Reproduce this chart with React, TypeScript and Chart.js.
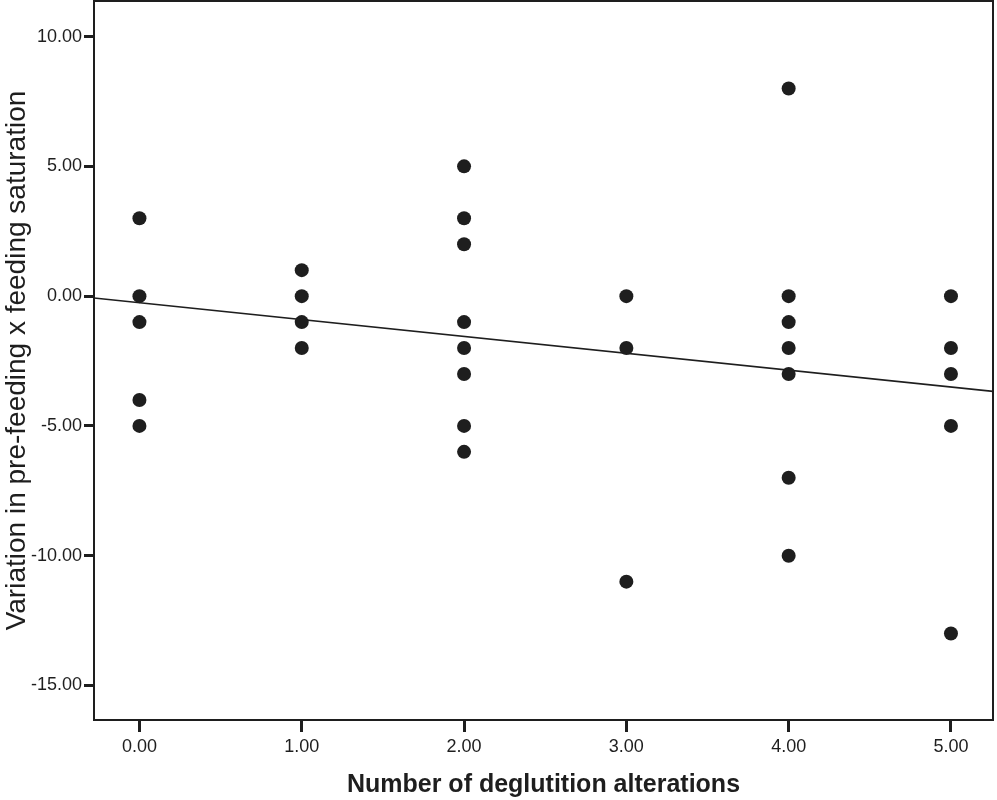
import React, { useEffect, useRef } from "react";
import { Chart, registerables } from "chart.js";

Chart.register(...registerables);

const xValues = [0, 0, 0, 0, 0, 1, 1, 1, 1, 2, 2, 2, 2, 2, 2, 2, 2, 3, 3, 3, 4, 4, 4, 4, 4, 4, 4, 5, 5, 5, 5, 5];
const yValues = [3, 0, -1, -4, -5, 1, 0, -1, -2, 5, 3, 2, -1, -2, -3, -5, -6, 0, -2, -11, 8, 0, -1, -2, -3, -7, -10, 0, -2, -3, -5, -13];
const fitX = [-0.28, 5.26];
const fitY = [-0.07, -3.67];
const xTicks = [0, 1, 2, 3, 4, 5];
const yTicks = [-15, -10, -5, 0, 5, 10];
const xTitle = "Number of deglutition alterations";
const yTitle = "Variation in pre-feeding x feeding saturation";

const INK = "#1e1e1e";
const FONT = "'Liberation Sans', Arial, sans-serif";

const framePlugin = {
  id: "frame",
  afterDatasetsDraw(chart: any) {
    const { ctx, chartArea } = chart;
    ctx.save();
    ctx.strokeStyle = INK;
    ctx.lineWidth = 2;
    ctx.strokeRect(chartArea.left, chartArea.top, chartArea.right - chartArea.left, chartArea.bottom - chartArea.top);
    ctx.restore();
  },
};

export default function App() {
  const ref = useRef<HTMLCanvasElement | null>(null);
  useEffect(() => {
    if (!ref.current) return;
    const chart = new Chart(ref.current, {
      type: "scatter",
      data: {
        datasets: [
          {
            label: "points",
            data: xValues.map((x, i) => ({ x, y: yValues[i] })),
            backgroundColor: INK,
            borderColor: INK,
            pointRadius: 7,
            pointHoverRadius: 7,
            borderWidth: 0,
            order: 0,
          },
          {
            label: "fit",
            type: "line",
            data: fitX.map((x, i) => ({ x, y: fitY[i] })),
            borderColor: INK,
            borderWidth: 1.6,
            pointRadius: 0,
            fill: false,
            order: 1,
          } as any,
        ],
      },
      options: {
        animation: false,
        responsive: false,
        devicePixelRatio: 1,
        layout: { autoPadding: false, padding: { top: 1, right: 4, left: 0, bottom: 0 } },
        plugins: { legend: { display: false }, tooltip: { enabled: false } },
        scales: {
          x: {
            type: "linear",
            min: -0.28,
            max: 5.259,
            afterBuildTicks: (s: any) => {
              s.ticks = xTicks.map((v) => ({ value: v }));
            },
            afterFit: (s: any) => {
              s.height = 80;
              s.paddingLeft = 0;
              s.paddingRight = 0;
            },
            ticks: {
              callback: (v: any) => Number(v).toFixed(2),
              font: { family: FONT, size: 18 },
              color: INK,
              padding: 4,
              maxRotation: 0,
            },
            grid: {
              drawOnChartArea: false,
              drawTicks: true,
              tickLength: 12,
              tickWidth: 3,
              tickColor: INK,
            },
            border: { display: true, width: 2, color: INK },
            title: {
              display: true,
              text: xTitle,
              font: { family: FONT, size: 25, weight: "bold" },
              color: INK,
              padding: { top: 0, bottom: 0 },
            },
          },
          y: {
            type: "linear",
            min: -16.33,
            max: 11.37,
            afterBuildTicks: (s: any) => {
              s.ticks = yTicks.map((v) => ({ value: v }));
            },
            afterFit: (s: any) => {
              s.width = 94;
              s.paddingTop = 0;
              s.paddingBottom = 0;
            },
            ticks: {
              callback: (v: any) => Number(v).toFixed(2),
              font: { family: FONT, size: 18 },
              color: INK,
              padding: 2,
            },
            grid: {
              drawOnChartArea: false,
              drawTicks: true,
              tickLength: 10,
              tickWidth: 3,
              tickColor: INK,
            },
            border: { display: true, width: 2, color: INK },
            title: {
              display: true,
              text: yTitle,
              font: { family: FONT, size: 28 },
              color: INK,
              padding: { top: 0, bottom: 0 },
            },
          },
        },
      },
      plugins: [framePlugin],
    });
    return () => chart.destroy();
  }, []);

  return (
    <div style={{ position: "absolute", left: 0, top: 0, width: 997, height: 800, background: "#fff" }}>
      <canvas ref={ref} width={997} height={800} />
    </div>
  );
}
